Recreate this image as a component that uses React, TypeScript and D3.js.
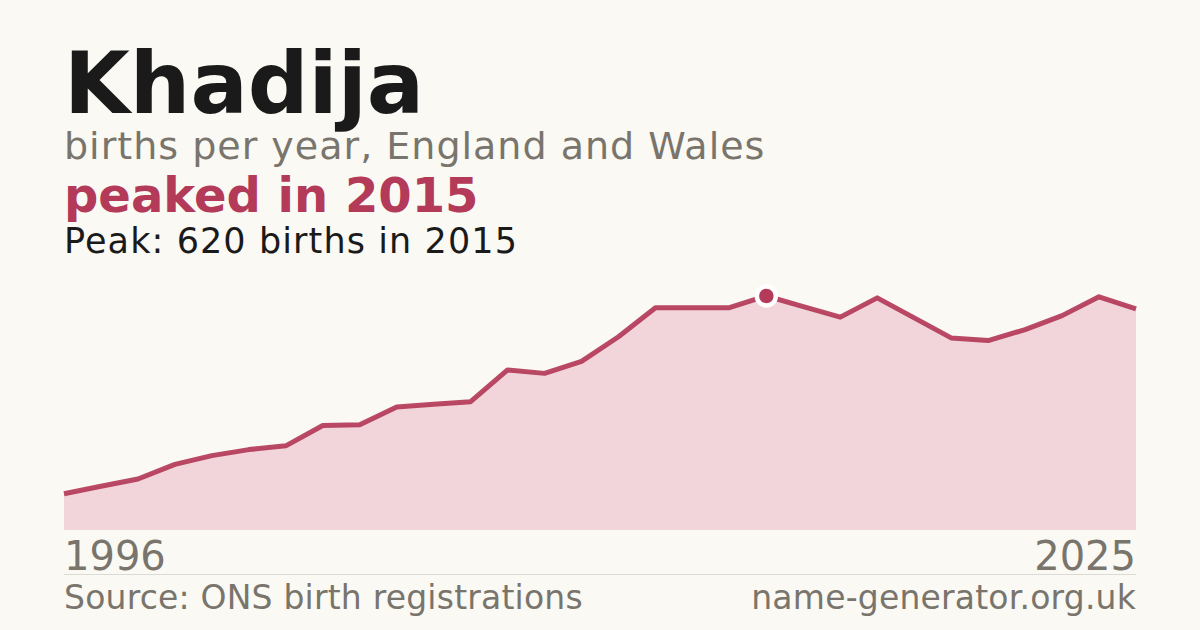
import * as d3 from "d3";

const WIDTH = 1200;
const HEIGHT = 630;

const NAME = "Khadija";
const SUBTITLE = "births per year, England and Wales";
const HEADLINE = "peaked in 2015";
const PEAK_NOTE = "Peak: 620 births in 2015";
const SOURCE = "Source: ONS birth registrations";
const SITE = "name-generator.org.uk";

const years = [
  1996, 1997, 1998, 1999, 2000, 2001, 2002, 2003, 2004, 2005, 2006, 2007,
  2008, 2009, 2010, 2011, 2012, 2013, 2014, 2015, 2016, 2017, 2018, 2019,
  2020, 2021, 2022, 2023, 2024, 2025,
];
const births = [
  96, 116, 135, 174, 197, 213, 223, 277, 279, 326, 333, 340, 424, 415, 447,
  512, 589, 589, 589, 620, 592, 564, 615, 562, 509, 502, 531, 568, 618, 586,
];
const peakYear = 2015;

const BG = "#faf9f4";
const INK = "#1a1a1a";
const MUTED = "#79746c";
const ACCENT = "#b33a58";
const FILL = "#f2d5da";
const FONT = "'DejaVu Sans', sans-serif";

export default function App() {
  const margin = { left: 64, right: 64, top: 296, bottom: 100 };
  const points = years.map((year, i) => ({ year, value: births[i] }));

  const xScale = d3
    .scaleLinear()
    .domain(d3.extent(years) as [number, number])
    .range([margin.left, WIDTH - margin.right]);

  const yScale = d3
    .scaleLinear()
    .domain([0, d3.max(births) || 0])
    .range([HEIGHT - margin.bottom, margin.top]);

  const area = d3
    .area<{ year: number; value: number }>()
    .x((d) => xScale(d.year))
    .y0(yScale(0))
    .y1((d) => yScale(d.value));

  const line = d3
    .line<{ year: number; value: number }>()
    .x((d) => xScale(d.year))
    .y((d) => yScale(d.value));

  const peak = points.find((d) => d.year === peakYear)!;
  const [x0, x1] = xScale.range();

  return (
    <svg
      width={WIDTH}
      height={HEIGHT}
      style={{ position: "absolute", left: 0, top: 0, display: "block" }}
      fontFamily={FONT}
    >
      <rect width={WIDTH} height={HEIGHT} fill={BG} />

      {/* Header */}
      <text x={64} y={113} fontSize={85} fontWeight="bold" fill={INK}>
        {NAME}
      </text>
      <text x={64} y={159} fontSize={38} letterSpacing={1} fill={MUTED}>
        {SUBTITLE}
      </text>
      <text x={64} y={212} fontSize={48} fontWeight="bold" fill={ACCENT}>
        {HEADLINE}
      </text>
      <text x={64} y={253} fontSize={35} letterSpacing={1.1} fill={INK}>
        {PEAK_NOTE}
      </text>

      {/* Area + line */}
      <path d={area(points) || ""} fill={FILL} />
      <path
        d={line(points) || ""}
        fill="none"
        stroke={ACCENT}
        strokeOpacity={0.92}
        strokeWidth={5}
        strokeLinejoin="round"
      />
      <circle
        cx={xScale(peak.year)}
        cy={yScale(peak.value)}
        r={9.5}
        fill={ACCENT}
        stroke="#fff"
        strokeWidth={4.5}
      />

      {/* Year labels */}
      <text x={x0} y={570} fontSize={40} fill={MUTED}>
        {years[0]}
      </text>
      <text x={x1} y={570} fontSize={40} fill={MUTED} textAnchor="end">
        {years[years.length - 1]}
      </text>

      <line x1={x0} x2={x1} y1={574.5} y2={574.5} stroke="#dcdad4" strokeWidth={1} />

      {/* Footer */}
      <text x={x0} y={609} fontSize={33} letterSpacing={0.2} fill={MUTED}>
        {SOURCE}
      </text>
      <text x={x1} y={609} fontSize={33} letterSpacing={0.2} fill={MUTED} textAnchor="end">
        {SITE}
      </text>
    </svg>
  );
}
